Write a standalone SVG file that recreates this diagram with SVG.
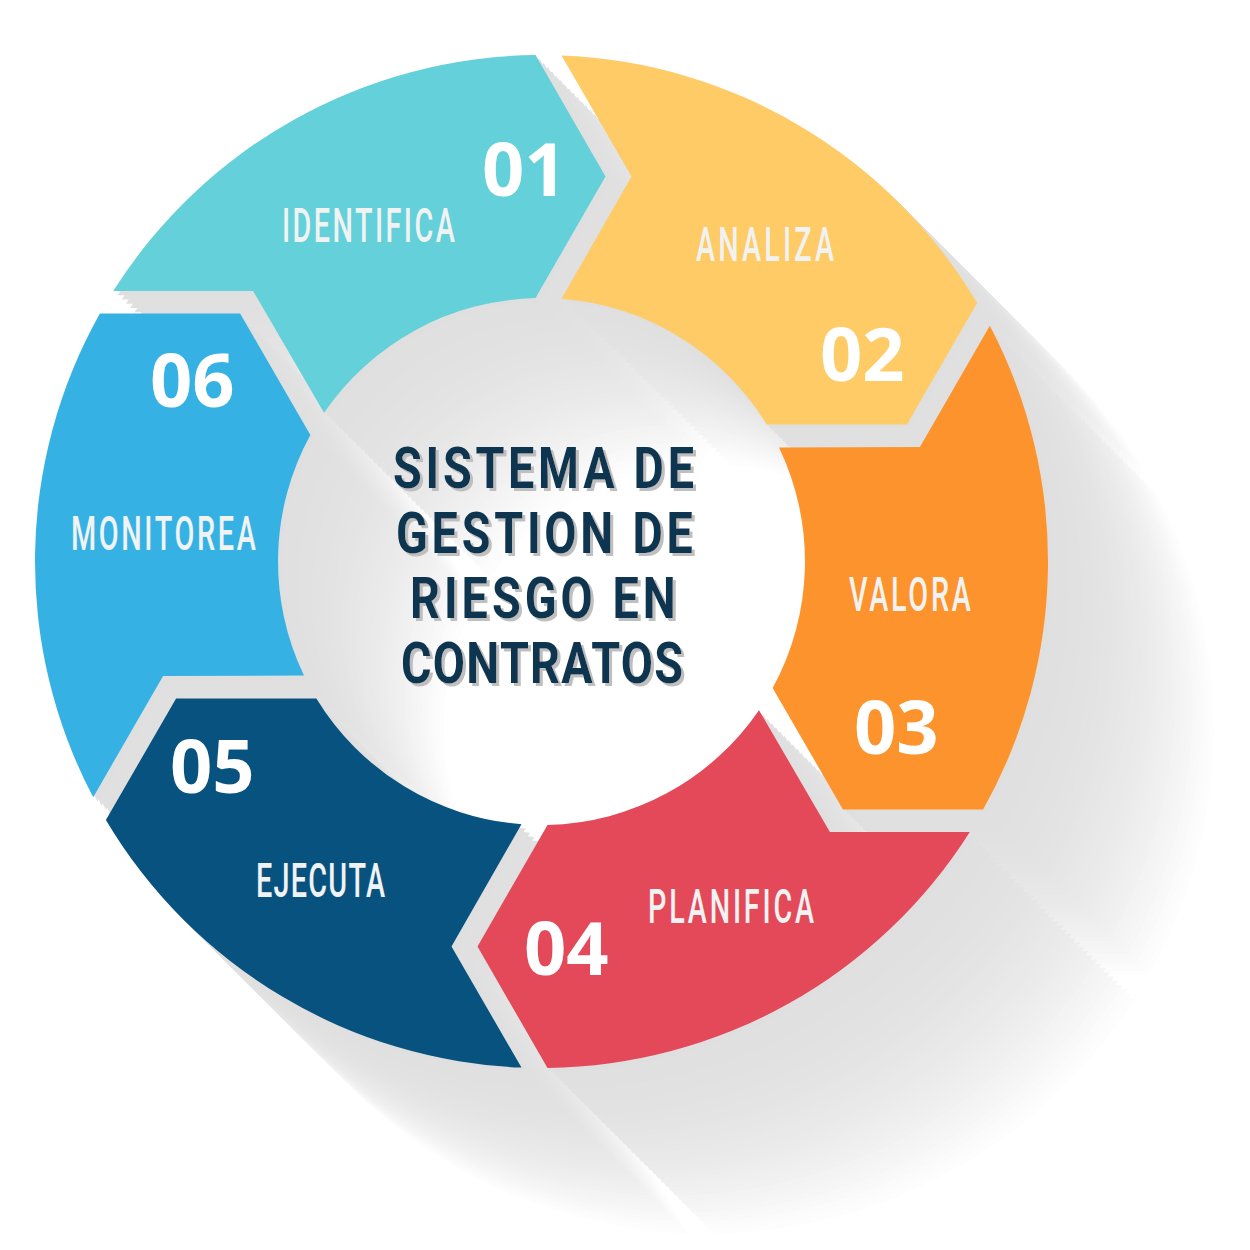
<svg xmlns="http://www.w3.org/2000/svg" width="1250" height="1250" viewBox="0 0 1250 1250">
<style>
.lbl{font-family:Roboto,"Liberation Sans",sans-serif;font-weight:500;font-size:48px;fill:#f1f2f2;}
.num{font-family:"Open Sans","Liberation Sans",sans-serif;font-weight:700;font-size:74px;fill:#ffffff;}
.ctr{font-family:Roboto,"Liberation Sans",sans-serif;font-weight:700;font-size:57px;fill:#0f3550;}
</style>
<defs>
<path id="seg" d="M113.2 291.1 A506.5 506.5 0 0 1 535.5 55.04 L605.5 176.5 L535.5 298.07 A263.5 263.5 0 0 0 324 412.81 L253.09 291.06 Z"/>
<g id="ring">
<use href="#seg"/>
<use href="#seg" transform="rotate(60 541.5 561.5)"/>
<use href="#seg" transform="rotate(120 541.5 561.5)"/>
<use href="#seg" transform="rotate(180 541.5 561.5)"/>
<use href="#seg" transform="rotate(240 541.5 561.5)"/>
<use href="#seg" transform="rotate(300 541.5 561.5)"/>
</g>
<filter id="tsh" x="-5%" y="-5%" width="115%" height="115%">
<feOffset in="SourceAlpha" dx="3" dy="3" result="o"/>
<feFlood flood-color="#bfbfbf"/>
<feComposite in2="o" operator="in" result="s"/>
<feMerge><feMergeNode in="s"/><feMergeNode in="SourceGraphic"/></feMerge>
</filter>
</defs>
<rect width="1250" height="1250" fill="#ffffff"/>
<g id="long-shadow">
<use href="#ring" x="165.75" y="165.75" fill="#fdfdfd"/>
<use href="#ring" x="161.5" y="161.5" fill="#fcfcfc"/>
<use href="#ring" x="157.25" y="157.25" fill="#fbfbfb"/>
<use href="#ring" x="153" y="153" fill="#f9f9f9"/>
<use href="#ring" x="148.75" y="148.75" fill="#f8f8f8"/>
<use href="#ring" x="144.5" y="144.5" fill="#f6f6f6"/>
<use href="#ring" x="140.25" y="140.25" fill="#f5f5f5"/>
<use href="#ring" x="136" y="136" fill="#f4f4f4"/>
<use href="#ring" x="131.75" y="131.75" fill="#f3f3f3"/>
<use href="#ring" x="127.5" y="127.5" fill="#f1f1f1"/>
<use href="#ring" x="123.25" y="123.25" fill="#f0f0f0"/>
<use href="#ring" x="119" y="119" fill="#efefef"/>
<use href="#ring" x="114.75" y="114.75" fill="#eeeeee"/>
<use href="#ring" x="110.5" y="110.5" fill="#ededed"/>
<use href="#ring" x="106.25" y="106.25" fill="#ececec"/>
<use href="#ring" x="102" y="102" fill="#ebebeb"/>
<use href="#ring" x="97.75" y="97.75" fill="#eaeaea"/>
<use href="#ring" x="93.5" y="93.5" fill="#e9e9e9"/>
<use href="#ring" x="89.25" y="89.25" fill="#e9e9e9"/>
<use href="#ring" x="85" y="85" fill="#e8e8e8"/>
<use href="#ring" x="80.75" y="80.75" fill="#e7e7e7"/>
<use href="#ring" x="76.5" y="76.5" fill="#e6e6e6"/>
<use href="#ring" x="72.25" y="72.25" fill="#e6e6e6"/>
<use href="#ring" x="68" y="68" fill="#e5e5e5"/>
<use href="#ring" x="63.75" y="63.75" fill="#e4e4e4"/>
<use href="#ring" x="59.5" y="59.5" fill="#e4e4e4"/>
<use href="#ring" x="55.25" y="55.25" fill="#e3e3e3"/>
<use href="#ring" x="51" y="51" fill="#e3e3e3"/>
<use href="#ring" x="46.75" y="46.75" fill="#e2e2e2"/>
<use href="#ring" x="42.5" y="42.5" fill="#e2e2e2"/>
<use href="#ring" x="38.25" y="38.25" fill="#e2e2e2"/>
<use href="#ring" x="34" y="34" fill="#e1e1e1"/>
<use href="#ring" x="29.75" y="29.75" fill="#e1e1e1"/>
<use href="#ring" x="25.5" y="25.5" fill="#e1e1e1"/>
<use href="#ring" x="21.25" y="21.25" fill="#e0e0e0"/>
<use href="#ring" x="17" y="17" fill="#e0e0e0"/>
<use href="#ring" x="12.75" y="12.75" fill="#e0e0e0"/>
<use href="#ring" x="8.5" y="8.5" fill="#e0e0e0"/>
<use href="#ring" x="4.25" y="4.25" fill="#dfdfdf"/>
</g>
<g id="step-01">
<use href="#seg" fill="#64d0d9"/>
<text class="num" x="482" y="196">01</text>
<text class="lbl" transform="translate(282 242) scale(0.6 1)" textLength="288" lengthAdjust="spacing">IDENTIFICA</text>
</g>
<g id="step-02">
<use href="#seg" transform="rotate(60 541.5 561.5)" fill="#fecb66"/>
<text class="lbl" transform="translate(696 261) scale(0.6 1)" textLength="230" lengthAdjust="spacing">ANALIZA</text>
<text class="num" x="820" y="381">02</text>
</g>
<g id="step-03">
<use href="#seg" transform="rotate(120 541.5 561.5)" fill="#fd932c"/>
<text class="lbl" transform="translate(849 611) scale(0.6 1)" textLength="203" lengthAdjust="spacing">VALORA</text>
<text class="num" x="854" y="754">03</text>
</g>
<g id="step-04">
<use href="#seg" transform="rotate(180 541.5 561.5)" fill="#e34958"/>
<text class="lbl" transform="translate(648 923) scale(0.6 1)" textLength="277" lengthAdjust="spacing">PLANIFICA</text>
<text class="num" x="524" y="975">04</text>
</g>
<g id="step-05">
<use href="#seg" transform="rotate(240 541.5 561.5)" fill="#08527f"/>
<text class="num" x="170" y="793">05</text>
<text class="lbl" transform="translate(256 897) scale(0.6 1)" textLength="215" lengthAdjust="spacing">EJECUTA</text>
</g>
<g id="step-06">
<use href="#seg" transform="rotate(300 541.5 561.5)" fill="#35b2e3"/>
<text class="num" x="150" y="407">06</text>
<text class="lbl" transform="translate(71 550) scale(0.6 1)" textLength="308" lengthAdjust="spacing">MONITOREA</text>
</g>
<g id="center" filter="url(#tsh)">
<g class="ctr" transform="scale(0.82 1)">
<text x="479.3" y="488" textLength="367" lengthAdjust="spacing">SISTEMA DE</text>
<text x="482.9" y="553" textLength="362" lengthAdjust="spacing">GESTION DE</text>
<text x="500" y="618" textLength="324" lengthAdjust="spacing">RIESGO EN</text>
<text x="489" y="683" textLength="344" lengthAdjust="spacing">CONTRATOS</text>
</g>
</g>
</svg>
